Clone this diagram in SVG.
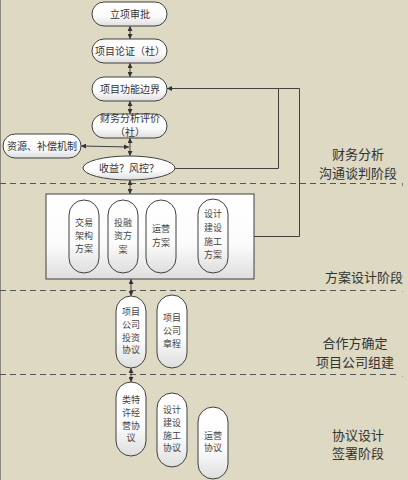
<svg xmlns="http://www.w3.org/2000/svg" width="408" height="480" viewBox="0 0 408 480">
<defs>
<linearGradient id="g" x1="0" y1="0" x2="0" y2="1"><stop offset="0" stop-color="#ffffff"/><stop offset="0.6" stop-color="#fbfbfb"/><stop offset="1" stop-color="#dedede"/></linearGradient>
<marker id="a" viewBox="0 0 8 8" refX="8" refY="4" markerWidth="5" markerHeight="5" orient="auto-start-reverse" markerUnits="userSpaceOnUse"><path d="M0,0 L8,4 L0,8 z" fill="#333"/></marker>
<style>
.n{fill:url(#g);stroke:#404040;stroke-width:1}
.t{font-family:"Noto Sans CJK SC","Noto Sans CJK JP",sans-serif;font-size:10px;fill:#333;text-anchor:middle}
.s{font-family:"Noto Sans CJK SC","Noto Sans CJK JP",sans-serif;font-size:9px;fill:#444;text-anchor:middle}
.l{font-family:"Noto Sans CJK SC","Noto Sans CJK JP",sans-serif;font-size:13px;fill:#333;text-anchor:middle}
.c{fill:none;stroke:#404040;stroke-width:1}
.d{fill:none;stroke:#555;stroke-width:1;stroke-dasharray:6,4}
</style>
</defs>
<rect x="0" y="0" width="408" height="480" fill="#DDD9C3"/>
<line x1="0.5" y1="0" x2="0.5" y2="480" stroke="#8a8a80" stroke-width="1"/>
<g id="phases">
<line class="d" x1="0" y1="183.5" x2="398" y2="183.5"/>
<line class="d" x1="0" y1="290.5" x2="398" y2="290.5"/>
<line class="d" x1="0" y1="374.5" x2="398" y2="374.5"/>
<line x1="402.5" y1="183" x2="402.5" y2="186" stroke="#777"/>
<line x1="402.5" y1="291" x2="402.5" y2="292" stroke="#999"/>
<line x1="402.5" y1="376" x2="402.5" y2="377" stroke="#999"/>
<text class="l" x="358" y="159">财务分析</text>
<text class="l" x="358" y="178">沟通谈判阶段</text>
<text class="l" x="364" y="282">方案设计阶段</text>
<text class="l" x="355" y="348">合作方确定</text>
<text class="l" x="355" y="367">项目公司组建</text>
<text class="l" x="358" y="440">协议设计</text>
<text class="l" x="358" y="458">签署阶段</text>
</g>
<g id="connectors">
<line class="c" x1="130" y1="26" x2="130" y2="39" marker-start="url(#a)" marker-end="url(#a)"/>
<line class="c" x1="130" y1="63" x2="130" y2="77" marker-start="url(#a)" marker-end="url(#a)"/>
<line class="c" x1="130" y1="101" x2="130" y2="114" marker-start="url(#a)" marker-end="url(#a)"/>
<line class="c" x1="130" y1="138" x2="130" y2="156" marker-start="url(#a)" marker-end="url(#a)"/>
<line class="c" x1="81" y1="146" x2="129" y2="147" marker-start="url(#a)" marker-end="url(#a)"/>
<line class="c" x1="130" y1="180" x2="130" y2="194" marker-start="url(#a)" marker-end="url(#a)"/>
<line class="c" x1="131" y1="279" x2="131" y2="296" marker-start="url(#a)" marker-end="url(#a)"/>
<line class="c" x1="131" y1="368" x2="131" y2="382" marker-start="url(#a)" marker-end="url(#a)"/>
<polyline class="c" points="175,168.5 278.5,168.5 278.5,88.5 167,88.5" marker-end="url(#a)"/>
<polyline class="c" points="254,236.5 299.5,236.5 299.5,88.5 278.5,88.5"/>
</g>
<g id="n1"><rect class="n" x="92" y="2" width="75" height="24" rx="12"/><text class="t" x="130" y="17.5">立项审批</text></g>
<g id="n2"><rect class="n" x="92" y="39" width="75" height="24" rx="12"/><text class="t" x="130" y="54.5">项目论证（社）</text></g>
<g id="n3"><rect class="n" x="92" y="77" width="75" height="24" rx="12"/><text class="t" x="130" y="92.5">项目功能边界</text></g>
<g id="n4"><rect class="n" x="92" y="114" width="75" height="24" rx="12"/><text class="t" x="130" y="121.5">财务分析评价</text><text class="t" x="130" y="135.5">（社）</text></g>
<g id="n5"><rect class="n" x="3" y="134" width="78" height="24" rx="12"/><text class="t" x="42" y="149.5">资源、补偿机制</text></g>
<g id="n6"><ellipse class="n" cx="129" cy="168" rx="46" ry="12"/><text class="t" x="129" y="171.5">收益？风控？</text></g>
<g id="n7">
<rect class="n" x="46" y="194" width="208" height="85"/>
<g id="n7a"><rect class="n" x="69" y="200" width="30" height="73" rx="15"/><text class="s" x="84" y="226">交易</text><text class="s" x="84" y="239">架构</text><text class="s" x="84" y="252">方案</text></g>
<g id="n7b"><rect class="n" x="108" y="200" width="30" height="73" rx="15"/><text class="s" x="123" y="226">投融</text><text class="s" x="123" y="239">资方</text><text class="s" x="123" y="253">案</text></g>
<g id="n7c"><rect class="n" x="146" y="200" width="30" height="73" rx="15"/><text class="s" x="161" y="232">运营</text><text class="s" x="161" y="246">方案</text></g>
<g id="n7d"><rect class="n" x="198" y="199" width="30" height="74" rx="15"/><text class="s" x="213" y="217">设计</text><text class="s" x="213" y="231">建设</text><text class="s" x="213" y="245">施工</text><text class="s" x="213" y="258">方案</text></g>
</g>
<g id="n8"><rect class="n" x="116" y="296" width="30" height="72" rx="15"/><text class="s" x="131" y="315">项目</text><text class="s" x="131" y="328">公司</text><text class="s" x="131" y="341">投资</text><text class="s" x="131" y="353">协议</text></g>
<g id="n9"><rect class="n" x="157" y="295" width="30" height="73" rx="15"/><text class="s" x="172" y="321">项目</text><text class="s" x="172" y="334">公司</text><text class="s" x="172" y="347">章程</text></g>
<g id="n10"><rect class="n" x="116" y="382" width="30" height="74" rx="15"/><text class="s" x="131" y="403">类特</text><text class="s" x="131" y="416">许经</text><text class="s" x="131" y="429">营协</text><text class="s" x="131" y="441">议</text></g>
<g id="n11"><rect class="n" x="157" y="393" width="30" height="74" rx="15"/><text class="s" x="172" y="413">设计</text><text class="s" x="172" y="426">建设</text><text class="s" x="172" y="439">施工</text><text class="s" x="172" y="451">协议</text></g>
<g id="n12"><rect class="n" x="198" y="407" width="30" height="72" rx="15"/><text class="s" x="213" y="439">运营</text><text class="s" x="213" y="451">协议</text></g>
</svg>
